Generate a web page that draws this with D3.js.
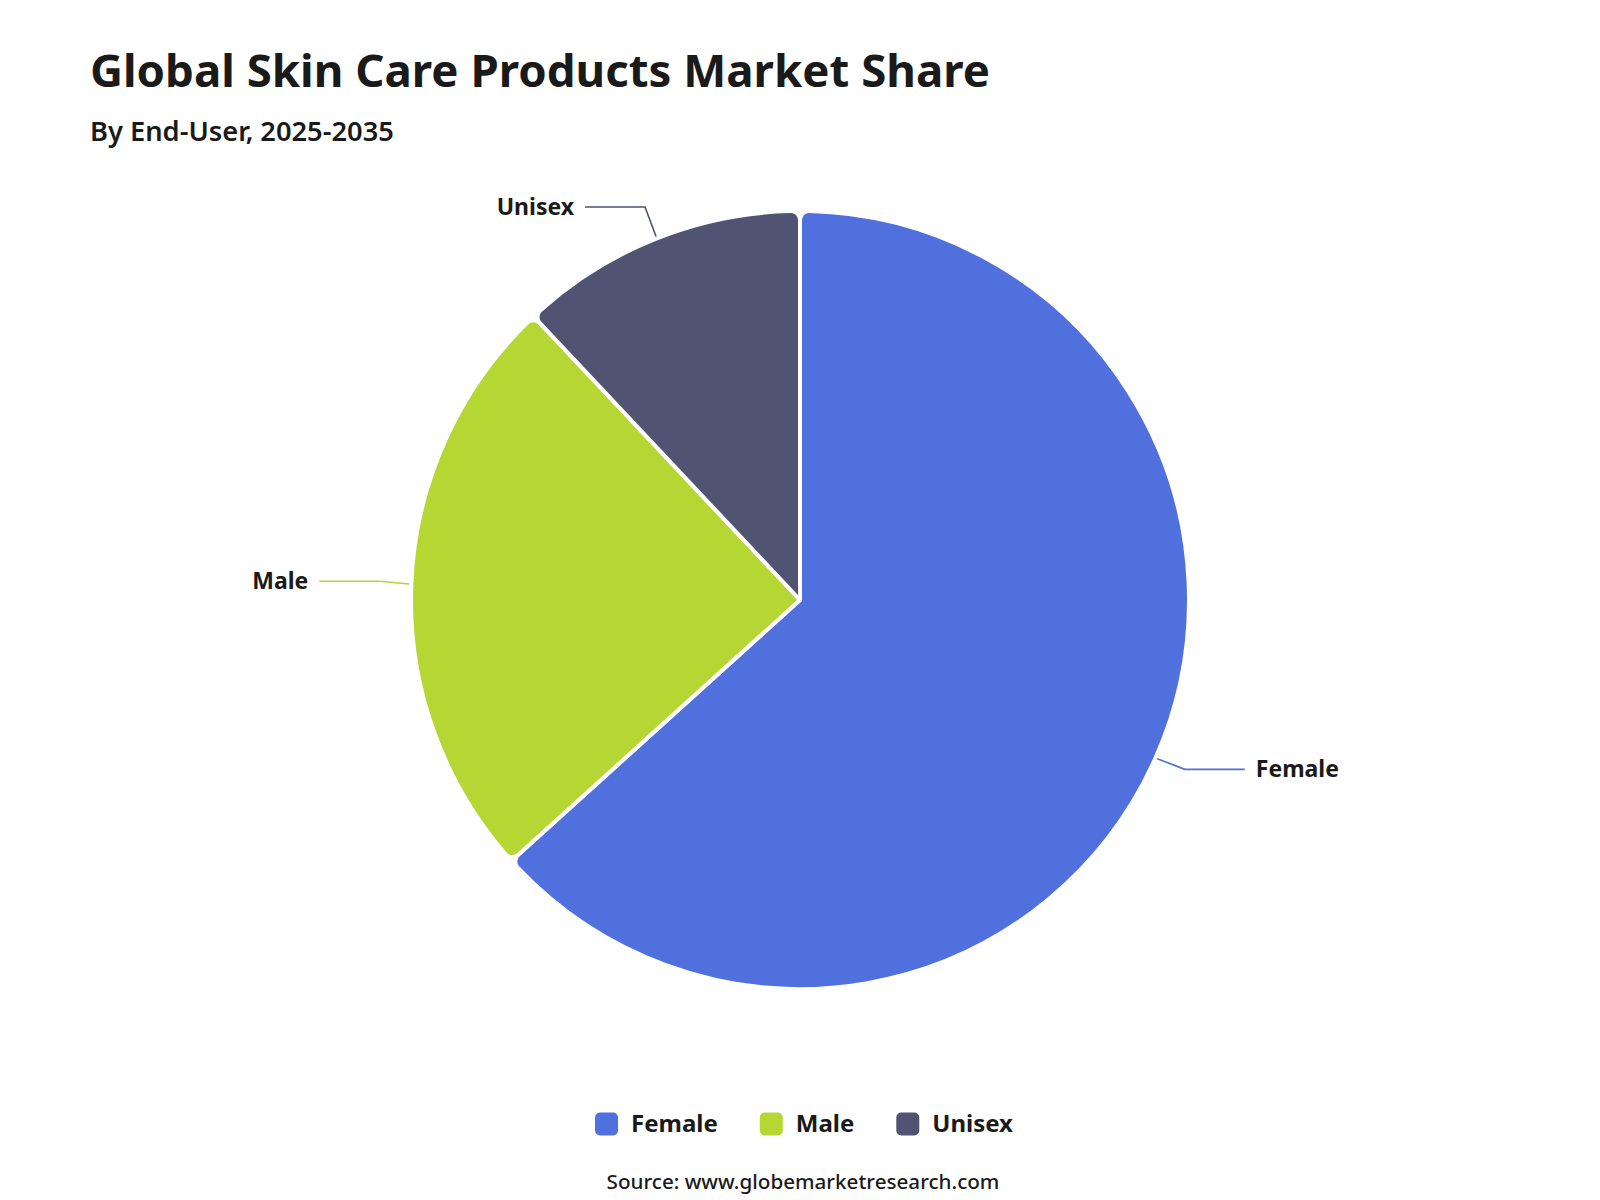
<!DOCTYPE html>
<html>
<head>
<meta charset="utf-8">
<script src="https://cdn.jsdelivr.net/npm/d3@7"></script>
<style>
  body { margin: 0; background: #fff; }
  text { font-family: "Noto Sans", "Open Sans", sans-serif; fill: #1a1a1a; }
</style>
</head>
<body>
<script>
var W = 1600, H = 1200;

// data
var categories = ["Female", "Male", "Unisex"];
var shares = [63.3, 24.7, 12.0];
var colors = ["#5070dd", "#b6d634", "#505372"];

var cx = 800, cy = 600, radius = 389;

var svg = d3.select("body").append("svg")
    .attr("width", W)
    .attr("height", H);

// title + subtitle, sized to match the reference widths
function fitText(sel, target){
    var w = sel.node().getComputedTextLength();
    var fs = parseFloat(sel.attr("font-size"));
    sel.attr("font-size", fs * target / w);
}

var title = svg.append("text")
    .attr("x", 90).attr("y", 87)
    .attr("font-size", 44)
    .attr("font-weight", 700)
    .text("Global Skin Care Products Market Share");
fitText(title, 900);

var sub = svg.append("text")
    .attr("x", 90).attr("y", 141)
    .attr("font-size", 25)
    .attr("font-weight", 600)
    .text("By End-User, 2025-2035");
fitText(sub, 304);

var data = categories.map(function(c, i){ return {name: c, value: shares[i], color: colors[i]}; });

var pie = d3.pie()
    .sort(null)
    .value(function(d){ return d.value; });

var arc = d3.arc()
    .innerRadius(0)
    .outerRadius(radius)
    .cornerRadius(9);

var g = svg.append("g")
    .attr("transform", "translate(" + cx + "," + cy + ")");

var arcs = pie(data);

g.selectAll(".slice")
    .data(arcs)
  .enter().append("path")
    .attr("class", "slice")
    .attr("d", arc)
    .style("fill", function(d){ return d.data.color; })
    .style("stroke", "#fff")
    .style("stroke-width", 4)
    .style("stroke-linejoin", "round");

// leader lines + labels
var r1 = radius + 2, r2 = radius + 32, len2 = 60;

arcs.forEach(function(d){
    var mid = (d.startAngle + d.endAngle) / 2;
    var sx = Math.sin(mid), sy = -Math.cos(mid);
    var right = sx > 0 ? 1 : -1;
    var p1 = [r1 * sx, r1 * sy],
        p2 = [r2 * sx, r2 * sy - 1.5],
        p3 = [p2[0] + right * len2, p2[1]];

    g.append("path")
        .attr("d", d3.line()([p1, p2, p3]))
        .style("fill", "none")
        .style("stroke", d.data.color)
        .style("stroke-width", 1.6);

    g.append("text")
        .attr("x", p3[0] + right * 11)
        .attr("y", p3[1])
        .attr("dy", "0.33em")
        .attr("text-anchor", right > 0 ? "start" : "end")
        .attr("font-size", 23)
        .attr("font-weight", 700)
        .text(d.data.name);
});

// legend
var legend = svg.append("g");
var lx = 0, itemGap = 42, sq = 23;
var items = legend.selectAll(".item")
    .data(data)
  .enter().append("g")
    .attr("class", "item");

items.append("rect")
    .attr("width", sq).attr("height", sq)
    .attr("y", -sq / 2)
    .attr("rx", 5)
    .style("fill", function(d){ return d.color; });

items.append("text")
    .attr("x", sq + 13)
    .attr("dy", "0.34em")
    .attr("font-size", 24)
    .attr("font-weight", 700)
    .text(function(d){ return d.name; });

items.each(function(){
    var it = d3.select(this);
    it.attr("transform", "translate(" + lx + ",0)");
    lx += sq + 13 + it.select("text").node().getComputedTextLength() + itemGap;
});
lx -= itemGap;
legend.attr("transform", "translate(" + (804 - lx / 2) + ",1124)");

var src = svg.append("text")
    .attr("x", 803).attr("y", 1189)
    .attr("text-anchor", "middle")
    .attr("font-size", 20)
    .attr("font-weight", 500)
    .text("Source: www.globemarketresearch.com");
fitText(src, 393);
</script>
</body>
</html>
